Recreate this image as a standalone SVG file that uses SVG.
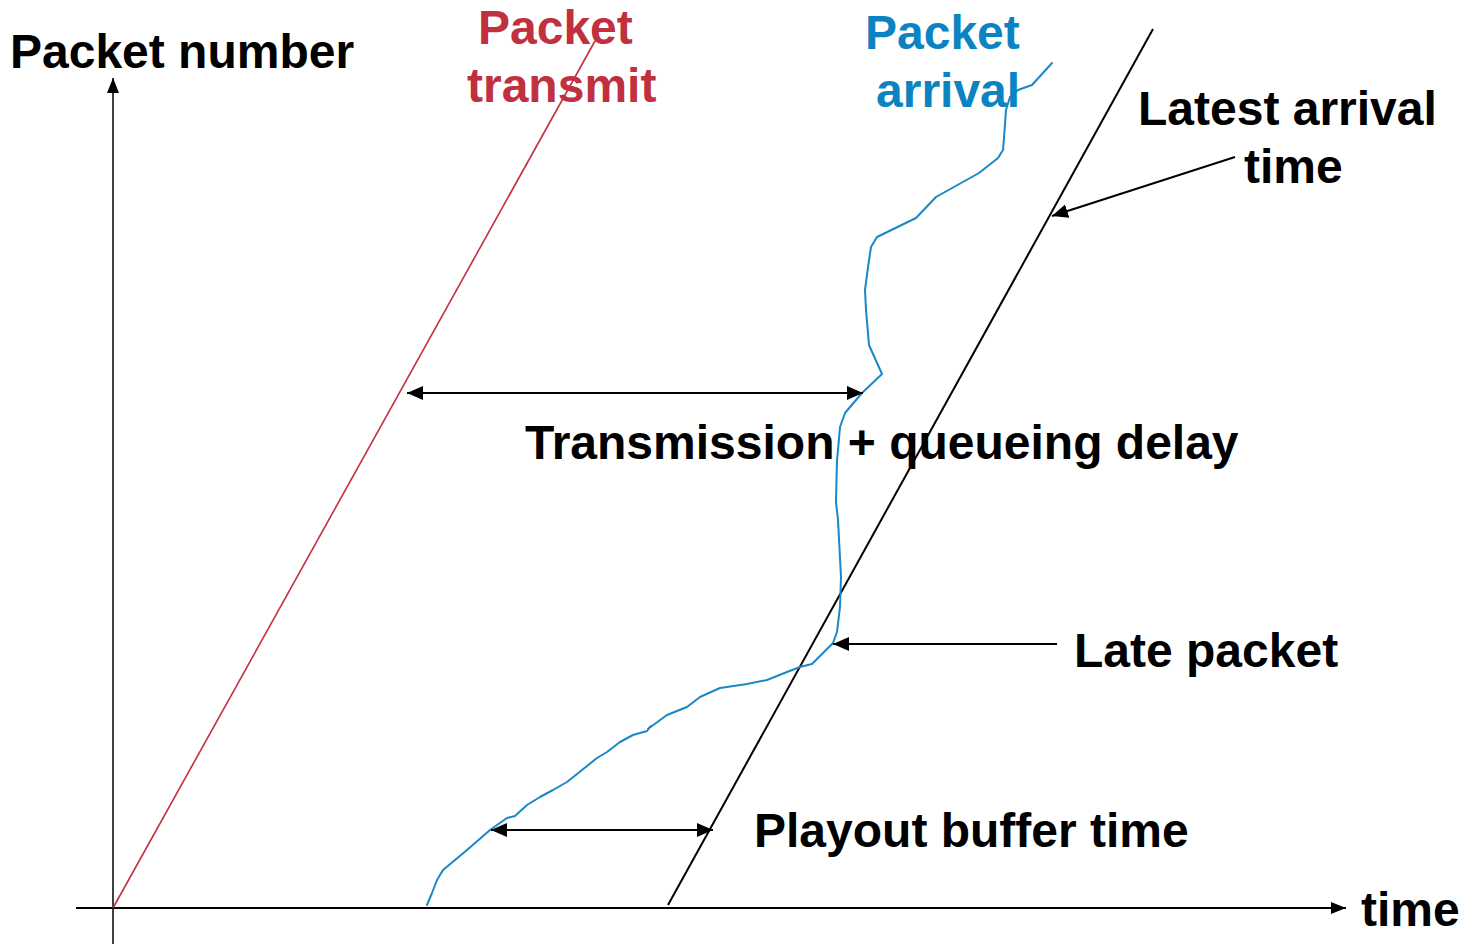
<svg xmlns="http://www.w3.org/2000/svg" width="1461" height="944" viewBox="0 0 1461 944">
  <style>
    .lbl { font-family: "Liberation Sans", Arial, sans-serif; font-weight: bold; font-size: 48px; fill: #000; }
    .red { fill: #C0303F; }
    .blue { fill: #0C83C1; }
    .ax { stroke: #000; fill: none; }
    .arr { stroke: #000; stroke-width: 2; fill: none; }
  </style>
  <defs>
    <marker id="head" markerUnits="userSpaceOnUse" markerWidth="16" markerHeight="14" refX="16" refY="7" orient="auto-start-reverse">
      <path d="M0,0 L16,7 L0,14 z" fill="#000"/>
    </marker>
    <marker id="axhead" markerUnits="userSpaceOnUse" markerWidth="15" markerHeight="12" refX="15" refY="6" orient="auto">
      <path d="M0,0 L15,6 L0,12 z" fill="#000"/>
    </marker>
  </defs>
  <rect width="1461" height="944" fill="#fff"/>

  <g id="axes">
    <line class="ax" x1="113" y1="944" x2="113" y2="78" stroke-width="1.5" marker-end="url(#axhead)"/>
    <line class="ax" x1="76" y1="908" x2="1346" y2="908" stroke-width="2" marker-end="url(#axhead)"/>
  </g>

  <g id="packet-transmit-line">
    <line x1="113" y1="908" x2="595" y2="41" stroke="#C0303F" stroke-width="1.6"/>
  </g>

  <g id="latest-arrival-line">
    <line x1="668" y1="905" x2="1153" y2="29" stroke="#000" stroke-width="2"/>
  </g>

  <g id="packet-arrival-curve">
    <polyline fill="none" stroke="#1A87C6" stroke-width="2" stroke-linejoin="round" stroke-linecap="round"
      points="1052,63 1032,85 1018,90 1010,97 1006,110 1004,138 1003,150 998,158 979,173 936,197 916,218 877,237 871,247 868,267 865,290 866,310 869,345 882,374 862,393 845,413 840,427 838,450 837,460 836,502 838,520 841,577 840,607 837,632 833,643 812,664 800,667 787,672 767,680 747,684 720,688 700,697 687,707 667,715 652,726 648,729 651,726 647,731 633,735 620,742 607,752 597,758 582,770 567,782 553,790 540,797 527,805 515,816 507,818 497,825 490,830 467,850 443,870 437,880 432,893 427,905"/>
  </g>

  <g id="connectors">
    <line class="arr" x1="407" y1="393" x2="863" y2="393" marker-start="url(#head)" marker-end="url(#head)"/>
    <line class="arr" x1="491" y1="830" x2="713" y2="830" marker-start="url(#head)" marker-end="url(#head)"/>
    <line class="arr" x1="1057" y1="644" x2="833" y2="644" marker-end="url(#head)"/>
    <line class="arr" x1="1235" y1="157" x2="1052" y2="216" marker-end="url(#head)"/>
  </g>

  <g id="labels">
    <text class="lbl" x="10" y="68">Packet number</text>
    <text class="lbl red" x="478" y="44">Packet</text>
    <text class="lbl red" x="467" y="102">transmit</text>
    <text class="lbl blue" x="865" y="49">Packet</text>
    <text class="lbl blue" x="876" y="107">arrival</text>
    <text class="lbl" x="1138" y="125">Latest arrival</text>
    <text class="lbl" x="1244" y="183">time</text>
    <text class="lbl" x="525" y="459">Transmission + queueing delay</text>
    <text class="lbl" x="1074" y="667">Late packet</text>
    <text class="lbl" x="754" y="847">Playout buffer time</text>
    <text class="lbl" x="1361" y="926">time</text>
  </g>
</svg>
